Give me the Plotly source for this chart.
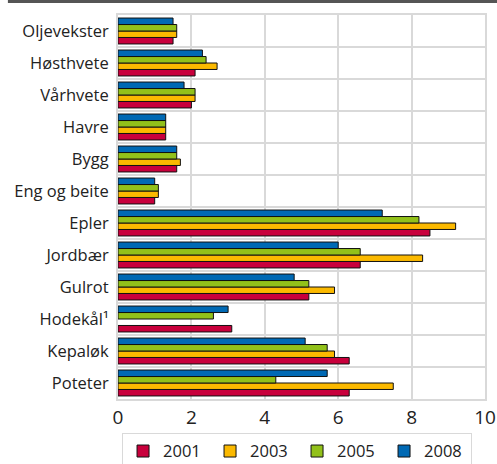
import plotly.graph_objects as go

categories = ["Oljevekster", "Høsthvete", "Vårhvete", "Havre", "Bygg", "Eng og beite",
              "Epler", "Jordbær", "Gulrot", "Hodekål¹", "Kepaløk", "Poteter"]
v2001 = [1.5, 2.1, 2.0, 1.3, 1.6, 1.0, 8.5, 6.6, 5.2, 3.1, 6.3, 6.3]
v2003 = [1.6, 2.7, 2.1, 1.3, 1.7, 1.1, 9.2, 8.3, 5.9, None, 5.9, 7.5]
v2005 = [1.6, 2.4, 2.1, 1.3, 1.6, 1.1, 8.2, 6.6, 5.2, 2.6, 5.7, 4.3]
v2008 = [1.5, 2.3, 1.8, 1.3, 1.6, 1.0, 7.2, 6.0, 4.8, 3.0, 5.1, 5.7]
years = ["2001", "2003", "2005", "2008"]
colors = ["#C8003C", "#FBB900", "#92C11A", "#0069B4"]
x_ticks = [0, 2, 4, 6, 8, 10]

FONT = "Open Sans"
fig = go.Figure()
for name, vals, col in zip(years, [v2001, v2003, v2005, v2008], colors):
    fig.add_trace(go.Bar(y=categories, x=vals, name=name, orientation="h",
                         marker=dict(color=col, line=dict(color="#111111", width=1))))

grid_col = "#d9d9d9"
shapes = []
for i in range(len(categories) - 1):
    shapes.append(dict(type="line", xref="paper", yref="y", x0=0, x1=1,
                       y0=i + 0.5, y1=i + 0.5, line=dict(color=grid_col, width=2),
                       layer="below"))
shapes.append(dict(type="line", xref="paper", yref="paper", x0=-0.3, x1=1.05,
                   y0=1.035, y1=1.035, line=dict(color="#555555", width=3)))

fig.update_layout(
    width=497, height=464,
    margin=dict(l=118, r=12, t=15, b=65, autoexpand=False),
    paper_bgcolor="white", plot_bgcolor="white",
    barmode="group", bargap=0.19, bargroupgap=0,
    font=dict(family=FONT, size=16, color="#222222"),
    shapes=shapes,
    legend=dict(orientation="h", x=0.011, xanchor="left", y=-0.088, yanchor="top",
                bordercolor="#d9d9d9", borderwidth=1, font=dict(size=16.5),
                entrywidth=42, entrywidthmode="pixels", itemclick=False,
                tracegroupgap=0),
    showlegend=True,
)
fig.update_xaxes(range=[0, 10], tickvals=x_ticks, showgrid=True, gridcolor=grid_col,
                 gridwidth=2, showline=True, linecolor=grid_col, linewidth=2, mirror=True,
                 zeroline=False, ticks="", tickfont=dict(size=19), fixedrange=True,
                 automargin=False)
fig.update_yaxes(categoryorder="array", categoryarray=list(reversed(categories)),
                 showgrid=False, showline=True, linecolor=grid_col, linewidth=2,
                 mirror=True, ticks="", ticklabelstandoff=4, tickfont=dict(size=16.5),
                 fixedrange=True, automargin=False)

fig.write_html("out.html", config={"displayModeBar": False},
               post_script="document.body.style.margin='0px';")
